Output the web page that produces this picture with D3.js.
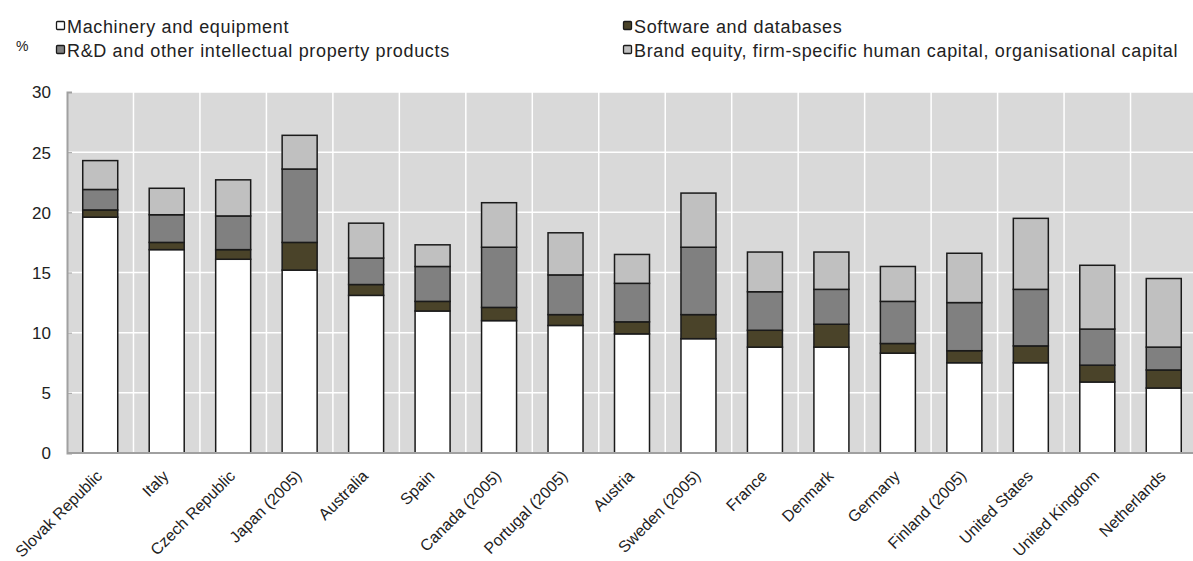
<!DOCTYPE html>
<html><head><meta charset="utf-8">
<script src="https://cdn.jsdelivr.net/npm/d3@7"></script>
<style>body{margin:0;background:#fff}svg{display:block}text{font-family:"Liberation Sans",Arial,sans-serif}</style>
</head><body><svg id="c" width="1193" height="561"></svg>
<script>
const countries = ["Slovak Republic","Italy","Czech Republic","Japan (2005)","Australia","Spain","Canada (2005)","Portugal (2005)","Austria","Sweden (2005)","France","Denmark","Germany","Finland (2005)","United States","United Kingdom","Netherlands"];
const machinery = [19.6,16.9,16.1,15.2,13.1,11.8,11.0,10.6,9.9,9.5,8.8,8.8,8.3,7.5,7.5,5.9,5.4];
const software  = [0.6,0.6,0.8,2.3,0.9,0.8,1.1,0.9,1.0,2.0,1.4,1.9,0.8,1.0,1.4,1.4,1.5];
const rnd       = [1.7,2.3,2.8,6.1,2.2,2.9,5.0,3.3,3.2,5.6,3.2,2.9,3.5,4.0,4.7,3.0,1.9];
const brand     = [2.4,2.2,3.0,2.8,2.9,1.8,3.7,3.5,2.4,4.5,3.3,3.1,2.9,4.1,5.9,5.3,5.7];
const seriesNames = ["Machinery and equipment","Software and databases","R&D and other intellectual property products","Brand equity, firm-specific human capital, organisational capital"];
const seriesKeys = ["m","s","r","b"];
const colors = ["#ffffff","#4a4329","#808080","#c0c0c0"];
const yTicks = [0,5,10,15,20,25,30];

const svg = d3.select("#c");
const L = 67, R = 1197, T = 92, B = 453;
const x = d3.scaleBand().domain(countries).range([L, R]).paddingInner(0).paddingOuter(0);
const y = d3.scaleLinear().domain([0, 30]).range([B, T]);

const data = countries.map((c,i)=>({c, m:machinery[i], s:software[i], r:rnd[i], b:brand[i]}));
const stacked = d3.stack().keys(seriesKeys)(data);

// background
svg.append("rect").attr("x",L).attr("y",T).attr("width",1193-L).attr("height",B-T).attr("fill","#d9d9d9");
// horizontal grid
svg.append("g").selectAll("line").data(yTicks.slice(1)).join("line")
  .attr("x1",L).attr("x2",1193).attr("y1",d=>y(d)).attr("y2",d=>y(d))
  .attr("stroke","#fff").attr("stroke-width",1.5);
// vertical grid at band boundaries
svg.append("g").selectAll("line").data(countries.slice(1)).join("line")
  .attr("x1",d=>x(d)).attr("x2",d=>x(d)).attr("y1",T).attr("y2",B)
  .attr("stroke","#fff").attr("stroke-width",1.5);

// bars
const bw = 35;
stacked.forEach((s,si)=>{
  svg.append("g").selectAll("rect").data(s).join("rect")
    .attr("x",d=>x(d.data.c)+x.bandwidth()/2-bw/2)
    .attr("width",bw)
    .attr("y",d=>y(d[1]))
    .attr("height",d=>y(d[0])-y(d[1]))
    .attr("fill",colors[si]).attr("stroke","#1a1a1a").attr("stroke-width",1.5);
});

// axes
const yAxis = svg.append("g").attr("transform",`translate(${L},0)`)
  .call(d3.axisLeft(y).tickValues(yTicks).tickSize(-5).tickPadding(16));
yAxis.select(".domain").attr("stroke","#a0a0a0").attr("stroke-width",2);
yAxis.selectAll(".tick line").attr("stroke","#a0a0a0");
yAxis.selectAll("text").attr("font-size",17).attr("fill","#222").attr("dy","0.35em");

svg.append("line").attr("x1",L).attr("x2",1193).attr("y1",B).attr("y2",B).attr("stroke","#a0a0a0").attr("stroke-width",2);

const xAxis = svg.append("g").attr("transform",`translate(0,${B})`)
  .call(d3.axisBottom(x).tickSize(0).tickPadding(0));
xAxis.select(".domain").remove();
xAxis.selectAll("text").attr("font-size",16).attr("fill","#222")
  .attr("text-anchor","end").attr("dy",0)
  .attr("transform","translate(3,24) rotate(-45)");

// legend
svg.append("text").attr("x",16).attr("y",51).attr("font-size",14).attr("fill","#222").text("%");
const legPos = [[56,33],[623,33],[56,57],[623,57]];
seriesNames.forEach((n,i)=>{
  const g = svg.append("g").attr("transform",`translate(${legPos[i][0]},${legPos[i][1]})`);
  g.append("rect").attr("x",0.5).attr("y",-11.5).attr("width",8).attr("height",8).attr("rx",1)
    .attr("fill",colors[i]).attr("stroke","#1a1a1a").attr("stroke-width",1.3);
  g.append("text").attr("x",11).attr("y",0).attr("font-size",18).attr("letter-spacing",0.65).attr("fill","#222").text(n);
});
</script></body></html>
